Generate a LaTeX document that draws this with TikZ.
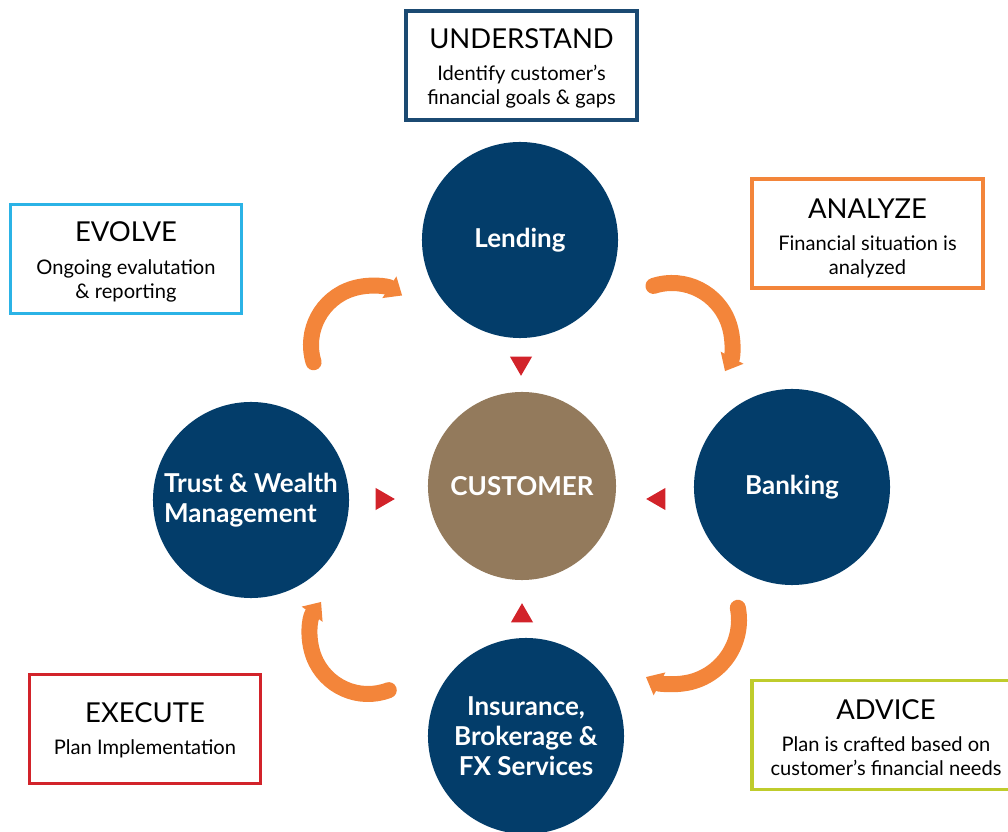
\documentclass[tikz,border=0pt]{standalone}
\usepackage{fontspec}
\setmainfont{Lato}
\usetikzlibrary{arrows.meta, shapes.geometric}
\definecolor{navy}{HTML}{033D6A}
\definecolor{frameblue}{HTML}{1B4A72}
\definecolor{brown}{HTML}{937A5C}
\definecolor{flow}{HTML}{F3853A}
\definecolor{tipred}{HTML}{D2232A}
\definecolor{skyblue}{HTML}{2BB3E6}
\definecolor{lime}{HTML}{BFCC2C}
\newcommand{\headfont}{\fontsize{19.5}{24}\selectfont}
\tikzset{
  stage/.style={
    circle,
    fill=navy,
    minimum size=4.9cm,
    inner sep=0pt,
    text=white,
    font=\bfseries\fontsize{18.5}{21.3}\selectfont,
    align=center
  },
  infobox/.style={
    draw,
    line width=2.2pt,
    fill=white,
    minimum width=5.775cm,
    minimum height=2.725cm,
    inner sep=0pt
  },
  boxtext/.style={
    inner sep=0pt,
    font=\fontsize{14.3}{17}\selectfont,
    align=center
  },
  pointer/.style={
    regular polygon,
    regular polygon sides=3,
    fill=tipred,
    minimum size=0.64cm,
    inner sep=0pt
  },
  cyclearrow/.style={
    draw=flow,
    line width=0.4cm,
    line cap=round,
    -{Triangle[length=0.38cm, width=0.62cm]}
  }
}

\begin{document}
\begin{tikzpicture}[x=0.025cm, y=0.025cm]
        \useasboundingbox (0,0) rectangle (1008,831);

        % Define the nodes
        \node[stage] (lending)   at (520,591) {Lending};
        \node[stage, fill=brown, minimum size=4.7cm] (customer) at (522,345) {CUSTOMER};
        \node[stage] (banking)   at (792,344) {Banking};
        \node[stage, align=left] (trust) at (251,331) {Trust \& Wealth\\Management};
        \node[stage] (insurance) at (526,95) {Insurance,\\Brokerage \&\\FX Services};

        % steps of the cycle
        \node[infobox, draw=frameblue] (understand) at (521.5,765.5)
          [label={[boxtext, yshift=-0.075cm]center:{{\headfont UNDERSTAND}\\[6pt]Identify customer's\\financial goals \& gaps}}] {};
        \node[infobox, draw=flow] (analyze) at (867.5,597.5)
          [label={[boxtext, yshift=-0.12cm]center:{{\headfont ANALYZE}\\[6pt]Financial situation is\\analyzed}}] {};
        \node[infobox, draw=skyblue] (evolve) at (126,572)
          [label={[boxtext, yshift=-0.075cm]center:{{\headfont EVOLVE}\\[6pt]Ongoing evalutation\\\& reporting}}] {};
        \node[infobox, draw=tipred] (execute) at (145,102)
          [label={[boxtext, yshift=-0.025cm]center:{{\headfont EXECUTE}\\[6pt]Plan Implementation}}] {};
        \node[infobox, draw=lime, minimum width=6.7cm] (advice) at (886,96)
          [label={[boxtext, yshift=-0.06cm]center:{{\headfont ADVICE}\\[6pt]Plan is crafted based on\\customer's financial needs}}] {};

        % red pointers towards the customer
        \node[pointer, shape border rotate=180] (pn) at (521,468) {};
        \node[pointer, shape border rotate=-90] (pw) at (382,332) {};
        \node[pointer, shape border rotate=90]  (pe) at (659,332) {};
        \node[pointer] (ps) at (522,215) {};

        % arc centres
        \coordinate (tl) at (370,486);
        \coordinate (tr) at (672,488);
        \coordinate (br) at (675,211);
        \coordinate (bl) at (368,195);

        % Arrows round the cycle
        \draw[cyclearrow] ([shift={(197:59)}]tl) arc[start angle=197, end angle=57, radius=59];
        \draw[cyclearrow] ([shift={(108:60)}]tr) arc[start angle=108, end angle=-28, radius=60];
        \draw[cyclearrow] ([shift={(11:64)}]br) arc[start angle=11, end angle=-117, radius=64];
        \draw[cyclearrow] ([shift={(291:58)}]bl) arc[start angle=291, end angle=144, radius=58];
\end{tikzpicture}
\end{document}
